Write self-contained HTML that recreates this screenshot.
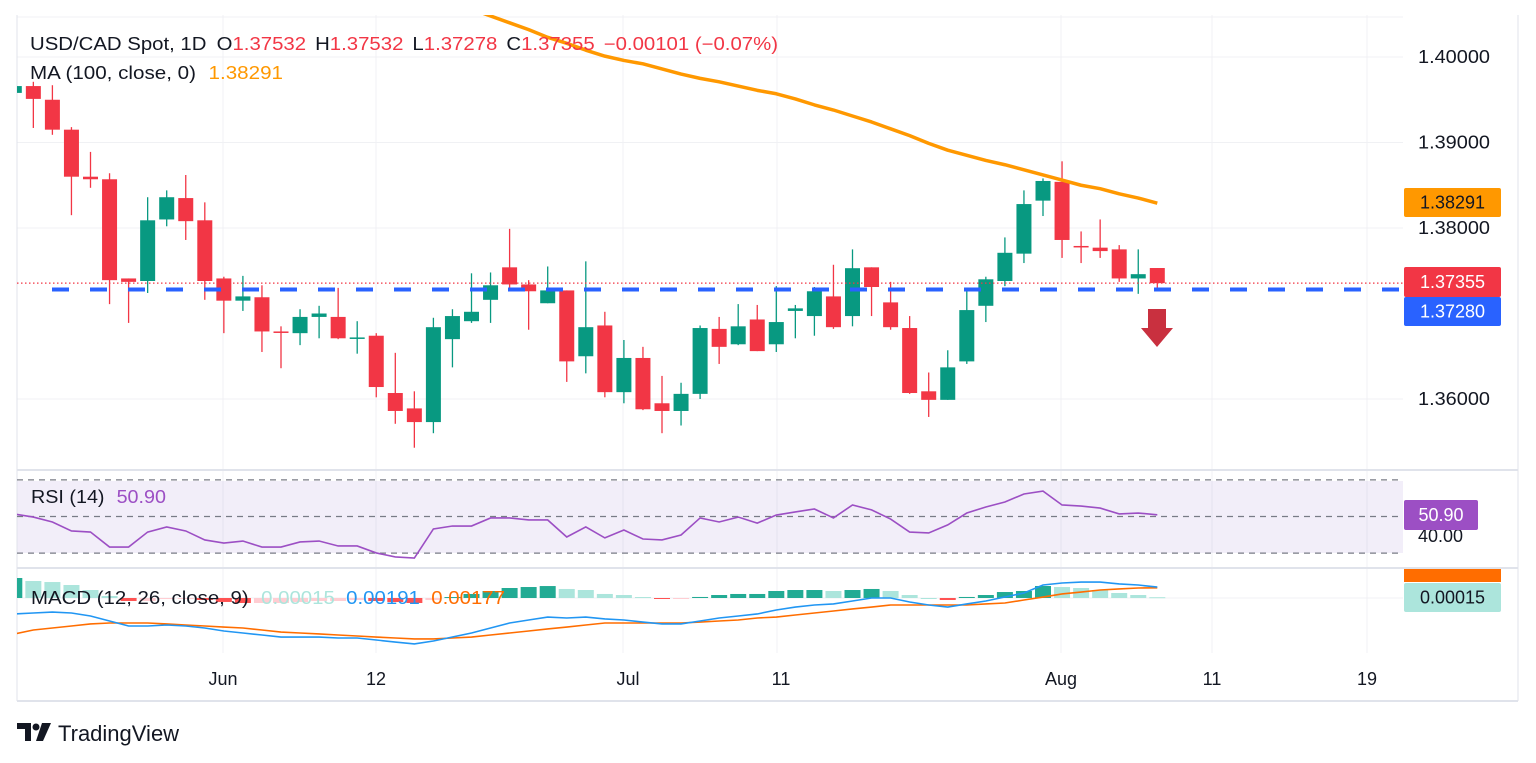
<!DOCTYPE html>
<html><head><meta charset="utf-8"><style>
html,body{margin:0;padding:0;background:#fff;width:1536px;height:763px;overflow:hidden}
svg{display:block;font-family:"Liberation Sans","DejaVu Sans",sans-serif}
</style></head><body>
<svg id="chart" width="1536" height="763" viewBox="0 0 1536 763" xmlns="http://www.w3.org/2000/svg">
<defs><clipPath id="mainClip"><rect x="17" y="15" width="1386" height="455"/></clipPath>
<clipPath id="rsiClip"><rect x="17" y="471" width="1386" height="96"/></clipPath>
<clipPath id="macdClip"><rect x="17" y="569" width="1386" height="90"/></clipPath></defs>
<g id="grid"></g>
<rect x="17" y="481" width="1386" height="72" fill="#7e57c2" fill-opacity="0.1"/>
<g id="panels"></g>
<g id="candles" clip-path="url(#mainClip)"></g>
<g id="overlay"></g>
<g id="rsi" clip-path="url(#rsiClip)"></g>
<g id="macd" clip-path="url(#macdClip)"></g>
<g id="axes"></g>
<g font-size="18">
<text x="30" y="50" fill="#131722" textLength="748" lengthAdjust="spacingAndGlyphs">USD/CAD Spot, 1D <tspan dx="4">O</tspan><tspan fill="#f23645">1.37532</tspan><tspan dx="8">H</tspan><tspan fill="#f23645">1.37532</tspan><tspan dx="8">L</tspan><tspan fill="#f23645">1.37278</tspan><tspan dx="8">C</tspan><tspan fill="#f23645">1.37355</tspan><tspan dx="8" fill="#f23645">−0.00101 (−0.07%)</tspan></text>
<text x="30" y="79" fill="#131722" textLength="253" lengthAdjust="spacingAndGlyphs">MA (100, close, 0) <tspan dx="6" fill="#ff9800">1.38291</tspan></text>
<text x="31" y="503" fill="#131722" textLength="135" lengthAdjust="spacingAndGlyphs">RSI (14) <tspan dx="6" fill="#9c4fc4">50.90</tspan></text>
<text x="31" y="604" fill="#131722" textLength="474" lengthAdjust="spacingAndGlyphs">MACD (12, 26, close, 9) <tspan dx="6" fill="#acE5DC">0.00015</tspan><tspan dx="10" fill="#2196f3">0.00191</tspan><tspan dx="10" fill="#ff6d00">0.00177</tspan></text>
</g>
<g>
<path d="M17 723h14v18h-6v-12h-8z" fill="#131722"/><circle cx="36" cy="727" r="3.5" fill="#131722"/><path d="M42 723h9l-8 18h-7z" fill="#131722"/>
<text x="58" y="741" font-size="22" fill="#131722">TradingView</text>
</g>
</svg>
<script>
const opens=[1.3958,1.3966,1.3950,1.3915,1.3860,1.3857,1.3741,1.3738,1.3810,1.3835,1.3809,1.3741,1.3715,1.3719,1.3679,1.3677,1.3696,1.3696,1.3671,1.3674,1.3607,1.3589,1.3573,1.3670,1.3691,1.3716,1.3754,1.3734,1.3712,1.3727,1.3650,1.3686,1.3608,1.3648,1.3595,1.3586,1.3606,1.3682,1.3664,1.3693,1.3664,1.3703,1.3697,1.3720,1.3697,1.3754,1.3713,1.3683,1.3609,1.3599,1.3644,1.3709,1.3738,1.3770,1.3832,1.3854,1.3779,1.3777,1.3775,1.3741,1.37532];
const highs=[1.3968,1.3971,1.3967,1.3918,1.3889,1.3864,1.3741,1.3836,1.3844,1.3862,1.3830,1.3743,1.3744,1.3733,1.3685,1.3705,1.3709,1.3730,1.3691,1.3677,1.3654,1.3609,1.3695,1.3705,1.3747,1.3748,1.3799,1.3739,1.3755,1.3727,1.3761,1.3702,1.3669,1.3661,1.3627,1.3619,1.3686,1.3696,1.3711,1.3710,1.3732,1.3710,1.3731,1.3757,1.3775,1.3754,1.3737,1.3697,1.3631,1.3657,1.3727,1.3743,1.3789,1.3844,1.3858,1.3878,1.3796,1.3810,1.3780,1.3775,1.37532];
const lows=[1.3956,1.3917,1.3909,1.3815,1.3847,1.3711,1.3689,1.3724,1.3802,1.3786,1.3716,1.3677,1.3703,1.3655,1.3636,1.3663,1.3671,1.3670,1.3653,1.3602,1.3571,1.3543,1.3560,1.3637,1.3689,1.3689,1.3726,1.3681,1.3712,1.3620,1.3630,1.3602,1.3595,1.3587,1.3560,1.3569,1.3600,1.3641,1.3663,1.3656,1.3655,1.3671,1.3674,1.3682,1.3685,1.3697,1.3681,1.3606,1.3579,1.3599,1.3641,1.3690,1.3732,1.3759,1.3814,1.3765,1.3759,1.3765,1.3737,1.3723,1.37278];
const closes=[1.3966,1.3951,1.3915,1.3860,1.3857,1.3739,1.3737,1.3809,1.3836,1.3808,1.3738,1.3715,1.3720,1.3679,1.3678,1.3696,1.3700,1.3671,1.3672,1.3614,1.3586,1.3573,1.3684,1.3697,1.3702,1.3733,1.3734,1.3726,1.3727,1.3644,1.3684,1.3608,1.3648,1.3588,1.3586,1.3606,1.3683,1.3661,1.3685,1.3656,1.3690,1.3706,1.3726,1.3684,1.3753,1.3731,1.3684,1.3607,1.3599,1.3637,1.3704,1.3740,1.3771,1.3828,1.3855,1.3786,1.3778,1.3773,1.3741,1.3746,1.37355];
const ma100=[null,null,null,null,null,null,null,null,null,null,null,null,null,null,null,null,null,null,null,null,null,null,null,null,1.4056,1.4048,1.4040,1.4032,1.4023,1.4016,1.4008,1.4001,1.3996,1.3992,1.3986,1.3980,1.3975,1.3971,1.3966,1.3961,1.3957,1.3951,1.3944,1.3938,1.3931,1.3924,1.3916,1.3908,1.3899,1.3891,1.3885,1.3879,1.3874,1.3868,1.3862,1.3856,1.3850,1.3846,1.3840,1.3835,1.3829];
const rsiValues=[51.4,49.7,47,42.1,41.5,33.3,33.3,41.5,44.3,42.1,37.2,35.5,36.6,33.3,33.3,36.1,36.6,33.9,33.9,30.1,27.9,27.3,43.2,44.8,44.8,49.2,49.2,48.1,48.1,38.8,44.3,38.3,42.6,37.7,37.2,39.9,49.2,47,49.7,46.4,50.8,52.5,54.1,49.2,56.3,53.6,48.6,41.5,41,45.4,51.9,55.2,57.9,62.3,63.9,56.3,55.7,54.6,51.4,51.9,50.9];
// MACD values in units of 1e-5
const macdLine=[-278,-261,-244,-261,-313,-400,-487,-487,-470,-487,-522,-574,-609,-644,-679,-679,-679,-696,-696,-731,-766,-800,-748,-679,-609,-522,-435,-383,-331,-348,-331,-365,-383,-418,-452,-452,-400,-348,-313,-278,-209,-157,-122,-104,-52,0,0,-70,-122,-157,-104,-52,17,87,226,261,278,278,244,226,191];
const signalLine=[-626,-557,-522,-487,-452,-435,-435,-435,-452,-470,-487,-505,-522,-557,-592,-609,-626,-644,-661,-679,-696,-713,-713,-696,-679,-644,-609,-574,-539,-505,-470,-435,-435,-435,-435,-435,-418,-400,-383,-348,-331,-296,-261,-226,-191,-157,-122,-122,-122,-122,-122,-104,-87,-35,17,70,104,139,157,174,177];
const priceTicks=[1.40,1.39,1.38,1.36];
const timeLabels=["Jun","12","Jul","11","Aug","11","19"];
const timeLabelX=[223,376,628,781,1061,1212,1367];
const gridX=[223,376,623,777,1061,1212,1367];
const supportLevel=1.37280;
const lastPrice=1.37355;

const NS="http://www.w3.org/2000/svg";
function X(i){return 14.3+19.05*i;}
function Y(p){return 57+(1.40-p)*8550;}
function RY(v){return 516.5-(v-50)*1.83;}
function MY(v){return 598-v/17.4;}
function el(tag,attrs,parent){const e=document.createElementNS(NS,tag);for(const k in attrs)e.setAttribute(k,attrs[k]);parent.appendChild(e);return e;}
const grid=document.getElementById('grid'),panels=document.getElementById('panels'),cg=document.getElementById('candles'),ov=document.getElementById('overlay'),rg=document.getElementById('rsi'),mg=document.getElementById('macd'),ax=document.getElementById('axes');

gridX.forEach(x=>{const l=el('line',{x1:x,x2:x,y1:15,y2:653,stroke:'#f0f1f4','stroke-width':1},grid);

});
[17].concat(priceTicks.map(Y)).forEach(y=>{const l=el('line',{x1:17,x2:1403,y1:y,y2:y,stroke:'#f0f1f4','stroke-width':1},grid);

});
[[17,1518,470],[17,1518,568],[17,1518,701]].forEach(s=>{const l=el('line',{x1:s[0],x2:s[1],y1:s[2],y2:s[2],stroke:'#e0e3eb','stroke-width':2},panels);

});
[[17,15,701],[1518,15,701]].forEach(s=>{const l=el('line',{x1:s[0],x2:s[0],y1:s[1],y2:s[2],stroke:'#e0e3eb','stroke-width':1},panels);

});

for(let i=0;i<opens.length;i++){
 const up=closes[i]>=opens[i];const c=up?'#089981':'#f23645';const x=X(i);
 const w=el('line',{x1:x,x2:x,y1:Y(highs[i]),y2:Y(lows[i]),stroke:c,'stroke-width':1.3},cg);
 
 
 const t=Math.min(Y(opens[i]),Y(closes[i]));const h=Math.max(1.5,Math.abs(Y(opens[i])-Y(closes[i])));
 const b=el('rect',{x:x-7.5,y:t,width:15,height:h,fill:c},cg);
 
 
}
let d='';ma100.forEach((v,i)=>{if(v==null)return;d+=(d?'L':'M')+X(i)+' '+Y(v);});
const ma=el('path',{d:d,fill:'none',stroke:'#ff9800','stroke-width':3.5,'stroke-linejoin':'round'},cg);


const lp=el('line',{x1:17,x2:1403,y1:Y(lastPrice),y2:Y(lastPrice),stroke:'#f23645','stroke-width':1.2,'stroke-dasharray':'1.5 2.5'},ov);


const sl=el('line',{x1:52,x2:1403,y1:Y(supportLevel),y2:Y(supportLevel),stroke:'#2962ff','stroke-width':4,'stroke-dasharray':'17 21'},ov);


const ar=el('path',{d:'M1148 309H1166V328H1173L1157 347L1141 328H1148Z',fill:'#c9303f'},ov);



[70,50,30].forEach(v=>{const l=el('line',{x1:17,x2:1403,y1:RY(v),y2:RY(v),stroke:'#787b86','stroke-width':1.3,'stroke-dasharray':'6 5'},rg);

});
let rd='';rsiValues.forEach((v,i)=>{rd+=(i?'L':'M')+X(i)+' '+RY(v);});
const rl=el('path',{d:rd,fill:'none',stroke:'#9c4fc4','stroke-width':1.6},rg);



const zl=el('line',{x1:17,x2:1403,y1:598,y2:598,stroke:'#f0f1f4','stroke-width':1},mg);


for(let i=0;i<macdLine.length;i++){
 const h=macdLine[i]-signalLine[i];const ph=i>0?macdLine[i-1]-signalLine[i-1]:h;
 let c;if(h>=0)c=h>=ph?'#22ab94':'#acE5DC';else c=h<ph?'#ff5252':'#ffcdd2';
 const y0=MY(0),y1=MY(h);
 const r=el('rect',{x:X(i)-8,y:Math.min(y0,y1),width:16,height:Math.max(1,Math.abs(y1-y0)),fill:c},mg);
 
 
}
let md='',sd='';macdLine.forEach((v,i)=>{md+=(i?'L':'M')+X(i)+' '+MY(v);});signalLine.forEach((v,i)=>{sd+=(i?'L':'M')+X(i)+' '+MY(v);});
const sp=el('path',{d:sd,fill:'none',stroke:'#ff6d00','stroke-width':1.6},mg);


const mp=el('path',{d:md,fill:'none',stroke:'#2196f3','stroke-width':1.6},mg);



priceTicks.forEach(p=>{const t=el('text',{x:1418,y:Y(p)+6,'font-size':18,fill:'#131722',textLength:72,lengthAdjust:'spacingAndGlyphs'},ax);t.textContent=p.toFixed(5);

});
const t40=el('text',{x:1418,y:542,'font-size':18,fill:'#131722'},ax);t40.textContent='40.00';


timeLabels.forEach((s,k)=>{const t=el('text',{x:timeLabelX[k],y:685,'font-size':18,fill:'#131722','text-anchor':'middle'},ax);t.textContent=s;

});
function badge(y1,y2,w,bg,fg,txt,name){
 const r=el('rect',{x:1404,y:y1,width:w,height:y2-y1,rx:2,fill:bg},ax);
 
 
 const t=el('text',{x:1404+w/2,y:(y1+y2)/2+6,'font-size':18,fill:fg,'text-anchor':'middle'},ax);t.textContent=txt;
 
 
}
badge(188,217,97,'#ff9800','#131722','1.38291','ma-price-badge');
badge(267,297,97,'#f23645','#ffffff','1.37355','last-price-badge');
badge(297,326,97,'#2962ff','#ffffff','1.37280','support-price-badge');
badge(500,530,74,'#9c4fc4','#ffffff','50.90','rsi-value-badge');
const ob=el('rect',{x:1404,y:569,width:97,height:13,fill:'#ff6d00'},ax);


badge(583,612,97,'#acE5DC','#131722','0.00015','histogram-value-badge');
</script>
</body></html>
